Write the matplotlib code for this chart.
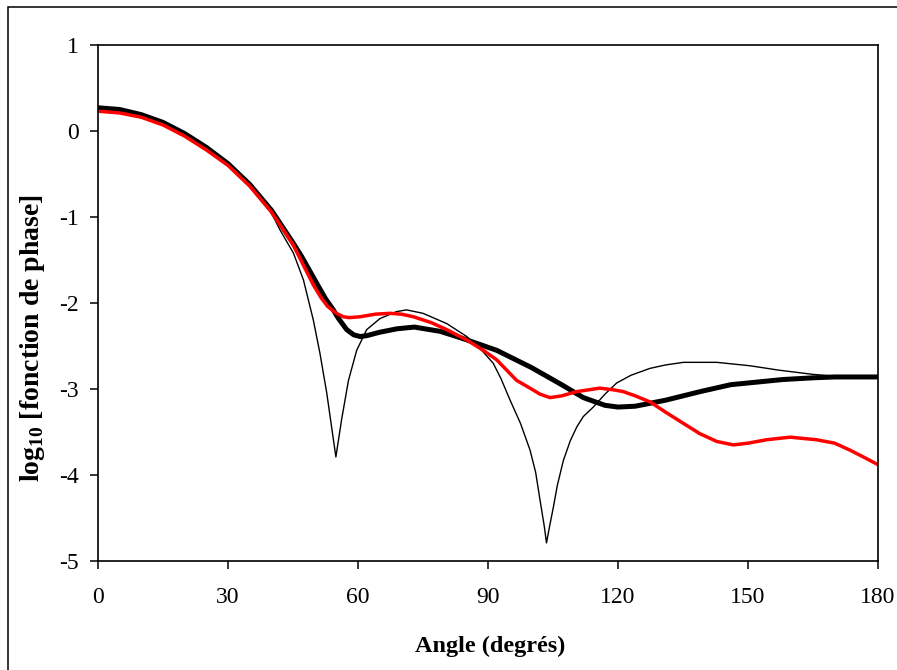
import matplotlib
matplotlib.use("Agg")
import matplotlib.pyplot as plt
from matplotlib.patches import Rectangle

# ── Données ───────────────────────────────────────────────────────────────
ang_epais = [0, 5, 10, 15, 20, 25, 30, 35, 40, 45, 47, 48.9, 50.8, 52.5, 54.3,
             55.5, 57.4, 59, 60.5, 62, 65, 69, 73, 79, 84, 92, 100, 107, 112,
             117, 120, 124, 128, 131, 135, 139, 146, 150, 158, 165, 170, 175,
             180]
val_epais = [0.27, 0.25, 0.19, 0.10, -0.03, -0.19, -0.38, -0.62, -0.92, -1.30,
             -1.46, -1.63, -1.80, -1.95, -2.08, -2.18, -2.31, -2.37, -2.39,
             -2.38, -2.34, -2.30, -2.28, -2.33, -2.41, -2.55, -2.75, -2.95,
             -3.10, -3.19, -3.21, -3.20, -3.16, -3.13, -3.08, -3.03, -2.95,
             -2.93, -2.89, -2.87, -2.86, -2.86, -2.86]

ang_fin = [0, 5, 10, 15, 20, 25, 30, 35, 40, 42, 45.1, 47.4, 49.7, 51.2, 52.8,
           53.9, 54.9, 56.2, 57.8, 59.7, 62, 65.1, 68.9, 71.2, 75, 80.5, 85.1,
           88, 91.2, 93, 95.1, 97.5, 99.7, 101, 102, 103, 103.5, 104.2, 105.1,
           106, 107.4, 109, 110.5, 112, 114.3, 117, 119.7, 123, 127.4, 131,
           135.1, 142.8, 150.5, 157, 165, 170, 180]
val_fin = [0.27, 0.25, 0.19, 0.10, -0.03, -0.19, -0.38, -0.63, -0.95, -1.15,
           -1.42, -1.73, -2.20, -2.58, -3.05, -3.44, -3.79, -3.36, -2.90,
           -2.55, -2.31, -2.18, -2.10, -2.08, -2.12, -2.24, -2.39, -2.52,
           -2.70, -2.88, -3.13, -3.40, -3.71, -3.97, -4.29, -4.60, -4.79,
           -4.60, -4.37, -4.12, -3.83, -3.60, -3.44, -3.32, -3.21, -3.06,
           -2.93, -2.84, -2.76, -2.72, -2.69, -2.69, -2.73, -2.78, -2.83,
           -2.85, -2.86]

ang_rouge = [0, 5, 10, 15, 20, 25, 30, 35, 40, 45, 47.5, 49.7, 51.5, 53, 55,
             56.6, 58, 60.5, 64, 67.4, 70, 72.8, 77, 80.5, 85.1, 88.9, 92,
             96.6, 99.7, 102, 104.3, 107, 110.5, 115.8, 119, 121.2, 124, 127.4,
             131, 135.1, 138.9, 142.8, 146.6, 150, 154.3, 159.7, 165.8, 170,
             173.5, 177, 180]
val_rouge = [0.23, 0.21, 0.16, 0.07, -0.06, -0.22, -0.40, -0.64, -0.94, -1.32,
             -1.57, -1.79, -1.94, -2.04, -2.12, -2.16, -2.17, -2.16, -2.13,
             -2.12, -2.13, -2.16, -2.23, -2.31, -2.43, -2.55, -2.66, -2.90,
             -2.99, -3.06, -3.10, -3.08, -3.03, -2.99, -3.01, -3.03, -3.08,
             -3.15, -3.27, -3.40, -3.52, -3.61, -3.65, -3.63, -3.59, -3.56,
             -3.59, -3.63, -3.71, -3.80, -3.88]

x_ticks = [0, 30, 60, 90, 120, 150, 180]
y_ticks = [1, 0, -1, -2, -3, -4, -5]

plt.rcParams["font.family"] = ["Liberation Serif", "DejaVu Serif"]
plt.rcParams["axes.unicode_minus"] = False
plt.rcParams["mathtext.fontset"] = "custom"
plt.rcParams["mathtext.rm"] = "Liberation Serif"
plt.rcParams["mathtext.bf"] = "Liberation Serif:bold"

fig = plt.figure(figsize=(8.97, 6.70), dpi=100)
ax = fig.add_axes([98 / 897, 1 - 561 / 670, 780 / 897, 516 / 670])

# cadre extérieur (bords gauche et haut visibles)
fig.add_artist(Rectangle((8 / 897, -0.2), 1.2, 0.2 + 1 - 7 / 670,
                         transform=fig.transFigure, fill=False,
                         edgecolor="black", linewidth=1.1))

style = dict(solid_joinstyle="round", solid_capstyle="butt")
ax.plot(ang_fin, val_fin, color="black", lw=1.0, **style)
ax.plot(ang_epais, val_epais, color="black", lw=3.6, **style)
ax.plot(ang_rouge, val_rouge, color="#ff0000", lw=2.5, **style)

ax.set_xlim(0, 180)
ax.set_ylim(-5, 1)
ax.set_xticks(x_ticks)
ax.set_yticks(y_ticks)
ax.tick_params(direction="out", length=6, width=1.1, labelsize=17)
ax.tick_params(axis="y", pad=8)
ax.tick_params(axis="x", pad=13)
for s in ax.spines.values():
    s.set_linewidth(1.2)

ax.set_xlabel("Angle (degrés)", fontsize=17.5, fontweight="bold")
ax.set_ylabel(r"log$_{\mathbf{10}}$ [fonction de phase]", fontsize=20,
              fontweight="bold")
ax.xaxis.set_label_coords(0.503, -0.145)
ax.yaxis.set_label_coords(-0.065, 0.432)

plt.savefig("out.png", dpi=100)
plt.close()
